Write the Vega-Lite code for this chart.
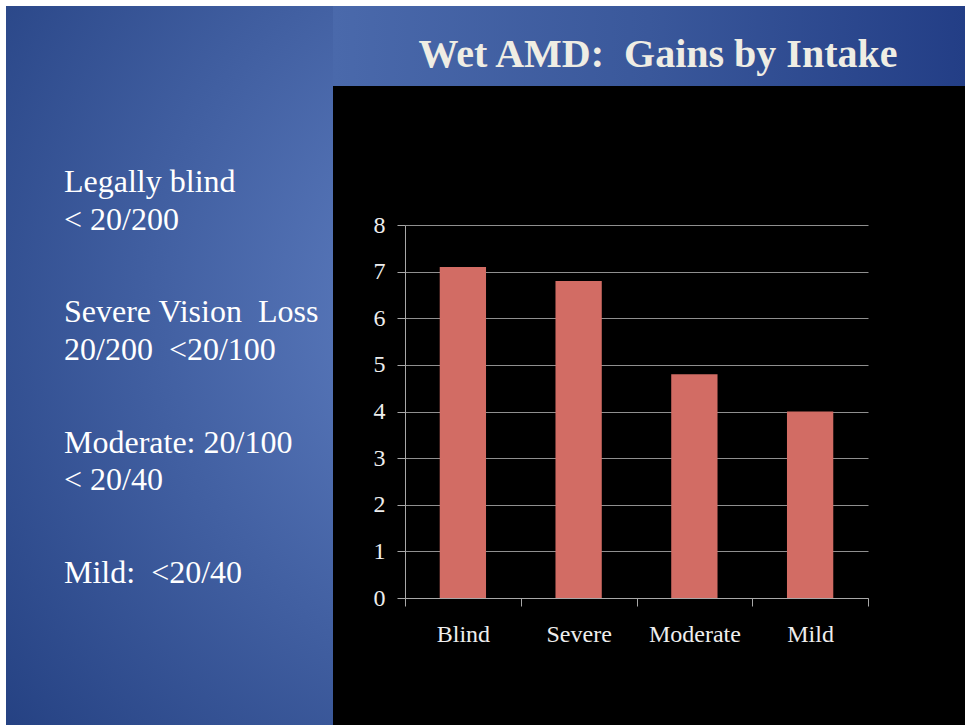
{
  "$schema": "https://vega.github.io/schema/vega-lite/v6.json",
  "background": "white",
  "padding": {"left": 6, "top": 6, "right": 0, "bottom": 0},
  "spacing": 0,
  "config": {
    "font": "Liberation Serif",
    "view": {"stroke": null},
    "concat": {"spacing": 0}
  },
  "hconcat": [
    {
      "width": 327,
      "height": 719,
      "view": {
        "stroke": null,
        "fill": {
          "gradient": "radial",
          "x1": 1, "y1": 0.42, "r1": 0,
          "x2": 1, "y2": 0.42, "r2": 1.05,
          "stops": [
            {"offset": 0, "color": "#6686c9"},
            {"offset": 1, "color": "#1d397a"}
          ]
        }
      },
      "data": {
        "values": [
          {"group": "Blind", "label": "Legally blind\n< 20/200"},
          {"group": "Severe", "label": "Severe Vision\u00a0 Loss\n20/200\u00a0 <20/100"},
          {"group": "Moderate", "label": "Moderate: 20/100\n< 20/40"},
          {"group": "Mild", "label": "Mild:\u00a0 <20/40"}
        ]
      },
      "mark": {
        "type": "text",
        "align": "left",
        "baseline": "alphabetic",
        "lineBreak": "\n",
        "lineHeight": 37.5,
        "fontSize": 32,
        "font": "Liberation Serif",
        "color": "#ffffff",
        "dx": -105.5
      },
      "encoding": {
        "y": {
          "field": "group",
          "type": "nominal",
          "scale": {
            "type": "point",
            "domain": ["Blind", "Severe", "Moderate", "Mild"],
            "range": [186, 577],
            "padding": 0
          },
          "axis": null
        },
        "text": {"field": "label"}
      }
    },
    {
      "spacing": 0,
      "vconcat": [
        {
          "width": 632,
          "height": 80,
          "view": {
            "stroke": null,
            "fill": {
              "gradient": "linear",
              "x1": 0, "y1": 0.5, "x2": 1, "y2": 0.5,
              "stops": [
                {"offset": 0, "color": "#4a69ab"},
                {"offset": 0.5, "color": "#3a589b"},
                {"offset": 1, "color": "#233e86"}
              ]
            }
          },
          "data": {"values": [{"title": "Wet AMD:\u00a0 Gains by Intake"}]},
          "mark": {
            "type": "text",
            "align": "center",
            "baseline": "alphabetic",
            "fontSize": 40,
            "fontWeight": "bold",
            "font": "Liberation Serif",
            "color": "#efede4",
            "dx": 9,
            "dy": 20.7
          },
          "encoding": {"text": {"field": "title"}}
        },
        {
          "width": 632,
          "height": 639,
          "view": {"stroke": null, "fill": "#000000"},
          "data": {
            "values": [
              {"category": "Blind", "value": 7.1},
              {"category": "Severe", "value": 6.8},
              {"category": "Moderate", "value": 4.8},
              {"category": "Mild", "value": 4.0}
            ]
          },
          "mark": {"type": "bar", "color": "#d26c64", "width": {"band": 0.4}},
          "encoding": {
            "x": {
              "field": "category",
              "type": "nominal",
              "sort": null,
              "scale": {
                "domain": ["Blind", "Severe", "Moderate", "Mild"],
                "range": [72, 535],
                "paddingInner": 0,
                "paddingOuter": 0
              },
              "axis": {
                "title": null,
                "offset": -127,
                "tickBand": "extent",
                "labelAngle": 0,
                "labelFont": "Liberation Serif",
                "labelFontSize": 24,
                "labelColor": "#eeeeee",
                "labelPadding": 16,
                "tickSize": 8,
                "tickColor": "#a8a8a8",
                "domainColor": "#a8a8a8",
                "grid": false
              }
            },
            "y": {
              "field": "value",
              "type": "quantitative",
              "scale": {"domain": [0, 8], "range": [512, 139], "nice": false, "zero": true},
              "axis": {
                "title": null,
                "offset": -72,
                "values": [0, 1, 2, 3, 4, 5, 6, 7, 8],
                "labelFont": "Liberation Serif",
                "labelFontSize": 24,
                "labelColor": "#eeeeee",
                "labelPadding": 12,
                "tickSize": 8,
                "tickColor": "#a8a8a8",
                "domainColor": "#a8a8a8",
                "grid": true,
                "gridColor": "#8f8f8f",
                "gridWidth": 1
              }
            }
          }
        }
      ]
    }
  ]
}
